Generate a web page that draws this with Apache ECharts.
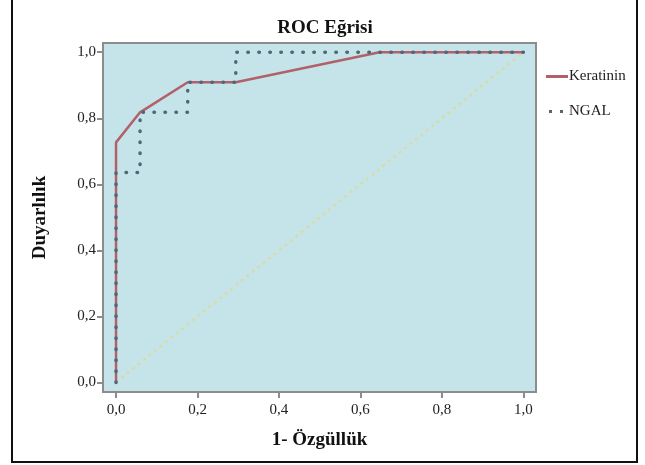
<!DOCTYPE html>
<html>
<head>
<meta charset="utf-8">
<script src="https://cdn.jsdelivr.net/npm/echarts@6/dist/echarts.min.js"></script>
<style>html,body{margin:0;padding:0;background:#fff}#c{width:645px;height:465px}</style>
</head>
<body>
<div id="c"></div>
<script>
var keratininX = [0, 0, 0.059, 0.176, 0.294, 0.647, 1];
var keratininY = [0, 0.727, 0.818, 0.909, 0.909, 1, 1];
var ngalX = [0, 0, 0.059, 0.059, 0.176, 0.176, 0.294, 0.294, 1];
var ngalY = [0, 0.636, 0.636, 0.818, 0.818, 0.909, 0.909, 1, 1];
var refX = [0, 1];
var refY = [0, 1];
var tickValues = [0, 0.2, 0.4, 0.6, 0.8, 1.0];
var seriesNames = ['Keratinin', 'NGAL'];

function pairs(xs, ys){ return xs.map(function(x,i){ return [x, ys[i]]; }); }
var fmt = function(v){ return v.toFixed(1).replace('.', ','); };
var serif = '"Liberation Serif", "DejaVu Serif", serif';

var chart = echarts.init(document.getElementById('c'), null, {renderer:'canvas'});
chart.setOption({
  animation: false,
  backgroundColor: '#fff',
  title: {
    text: 'ROC Eğrisi', left: 320, top: 14, textAlign: 'center',
    textStyle: {fontFamily: serif, fontWeight: 'bold', fontSize: 19, color: '#111'}
  },
  legend: {
    orient: 'vertical', left: 541, top: 64, itemGap: 20, itemWidth: 22, itemHeight: 3,
    data: [
      {name: seriesNames[0], icon: 'path://M0,0 L22,0 L22,3 L0,3 Z'},
      {name: seriesNames[1], icon: 'path://M3,0 L6,0 L6,3 L3,3 Z M14,0 L17,0 L17,3 L14,3 Z M0,0 L0.01,0 Z M22,3 L21.99,3 Z'}
    ],
    textStyle: {fontFamily: serif, fontSize: 15, color: '#222', padding: [0,0,0,-4]}
  },
  grid: {left: 103, right: 109, top: 43, bottom: 73, show: true,
    backgroundColor: '#c4e4ea', borderColor: '#8c8c8c', borderWidth: 2},
  xAxis: {
    type: 'value', min: -0.032, max: 1.031,
    name: '1- Özgüllük', nameLocation: 'middle', nameGap: 39,
    nameTextStyle: {fontFamily: serif, fontWeight: 'bold', fontSize: 19, color: '#111'},
    axisLine: {show: false, onZero: false},
    splitLine: {show: false},
    axisTick: {show: true, length: 6, customValues: tickValues, lineStyle: {color: '#8c8c8c', width: 2}},
    axisLabel: {customValues: tickValues, formatter: fmt, fontFamily: serif, fontSize: 15, color: '#222', margin: 11}
  },
  yAxis: {
    type: 'value', min: -0.029, max: 1.028,
    name: 'Duyarlılık', nameLocation: 'middle', nameGap: 53, nameRotate: 90,
    nameTextStyle: {fontFamily: serif, fontWeight: 'bold', fontSize: 19, color: '#111'},
    axisLine: {show: false, onZero: false},
    splitLine: {show: false},
    axisTick: {show: true, length: 6, customValues: tickValues, lineStyle: {color: '#8c8c8c', width: 2}},
    axisLabel: {customValues: tickValues, formatter: fmt, fontFamily: serif, fontSize: 15, color: '#222', margin: 7}
  },
  series: [
    {name: 'ref', type: 'line', data: pairs(refX, refY), symbol: 'none', silent: true,
     lineStyle: {color: '#d8dca4', width: 2.5, type: [3,4]}},
    {name: 'Keratinin', type: 'line', data: pairs(keratininX, keratininY), symbol: 'none',
     lineStyle: {color: '#b2606a', width: 2.5}, itemStyle: {color: '#b2606a'}},
    {name: 'NGAL', type: 'line', data: pairs(ngalX, ngalY), symbol: 'none',
     lineStyle: {color: '#4f6878', width: 3.5, type: [0.5, 10.5], cap: 'round'}, itemStyle: {color: '#4f6878'}}
  ],
  graphic: [
    {type: 'rect', shape: {x: 12, y: -2, width: 625, height: 464}, silent: true,
     style: {fill: 'none', stroke: '#111', lineWidth: 2}}
  ]
});
</script>
</body>
</html>
